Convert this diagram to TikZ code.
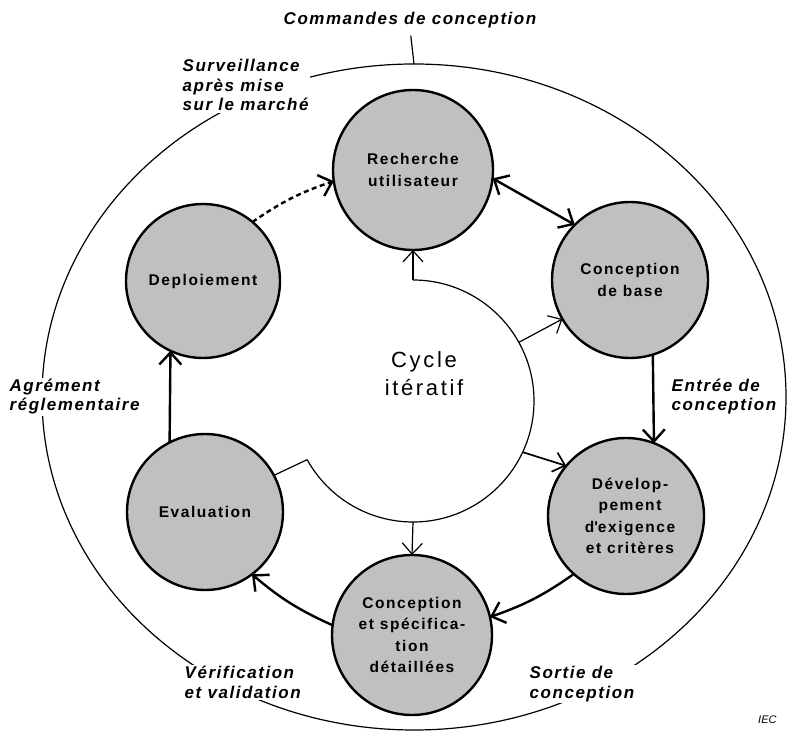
\documentclass[tikz,border=0pt]{standalone}
\usepackage{fontspec}
\setmainfont{Liberation Sans}
\newfontfamily\stagefamily[LetterSpace=10]{Liberation Sans}
\newfontfamily\labelfamily[LetterSpace=9]{Liberation Sans}
\newfontfamily\cyclefamily[LetterSpace=12]{Liberation Sans}
\usetikzlibrary{arrows.meta,shapes.geometric}
\definecolor{discgray}{RGB}{192,192,192}

\begin{document}
\begin{tikzpicture}[x=1pt,y=1pt,
  stage/.style={circle, draw, line width=2.4pt, fill=discgray, inner sep=0pt, outer sep=0pt},
  stagetext/.style={align=center, inner sep=0pt, font=\stagefamily\bfseries\fontsize{15.5}{21.5}\selectfont},
  labelfont/.style={font=\labelfamily\bfseries\itshape\fontsize{17}{19.5}\selectfont},
  outerlabel/.style={labelfont, align=left, inner sep=1.5pt, fill=white},
  thinline/.style={line width=1.2pt},
  thinarrow/.style={line width=1.2pt, -{Straight Barb[length=11pt,width=20pt]}},
  flow/.style={line width=2.4pt, {Straight Barb[length=12pt,width=22pt]}-{Straight Barb[length=12pt,width=22pt]}},
  flowto/.style={line width=2.4pt, -{Straight Barb[length=12pt,width=22pt]}}
]
\useasboundingbox (0,0) rectangle (802,731);

% surrounding design-control ellipse
\node[ellipse, draw, line width=1.2pt, minimum width=744pt, minimum height=666pt, inner sep=0pt, outer sep=0pt] (outer) at (414,334) {};

% outer labels (base anchor = baseline of the last line)
\node[labelfont, anchor=base, inner sep=0pt] (cmd) at (410,706) {Commandes de conception};
\draw[thinline, shorten >=7pt] (outer.north) -- (cmd.south);
\node[outerlabel, anchor=base west] (surv) at (181,620) {Surveillance\\après mise\\sur le marché};
\node[outerlabel, anchor=base west] (agr) at (8,320) {Agrément\\réglementaire};
\node[outerlabel, anchor=base west] (entree) at (670,320) {Entrée de\\conception};
\node[outerlabel, anchor=base west] (verif) at (183,33) {Vérification\\et validation};
\node[outerlabel, anchor=base west] (sortie) at (528,33) {Sortie de\\conception};
\node[anchor=base west, inner sep=0pt, font=\itshape\fontsize{11}{13}\selectfont] (iec) at (758,8) {IEC};

% iterative cycle (open circle)
\node[circle, minimum size=242pt, inner sep=0pt, outer sep=0pt] (cyc) at (413,330) {};
\draw[thinline] (cyc.90) arc[start angle=90, end angle=-151, radius=121pt];
\node[align=center, inner sep=0pt, font=\cyclefamily\fontsize{22}{28}\selectfont] (cyctext) at (424,357) {Cycle\\itératif};

% stages
\node[stage, minimum size=160pt] (rech) at (413,561) {};
\node[stage, minimum size=156pt] (base) at (630,451) {};
\node[stage, minimum size=156pt] (dev) at (626,215) {};
\node[stage, minimum size=160pt] (spec) at (412,96) {};
\node[stage, minimum size=156pt] (eval) at (205,219) {};
\node[stage, minimum size=154pt] (depl) at (203,450) {};

\node[stagetext] (rechT) at (rech.center) {Recherche\\utilisateur};
\node[stagetext] (baseT) at (base.center) {Conception\\de base};
\node[stagetext] (devT) at ([xshift=4pt]dev.center) {Dévelop-\\pement\\d\textquotesingle exigence\\et critères};
\node[stagetext] (specT) at (spec.center) {Conception\\et spécifica-\\tion\\détaillées};
\node[stagetext] (evalT) at (eval.center) {Evaluation};
\node[stagetext] (deplT) at (depl.center) {Deploiement};

% links from the iterative cycle
\draw[thinarrow] (cyc.90) -- (rech.-90);
\draw[thinarrow] (cyc.29) -- (base.210);
\draw[thinarrow, line width=1.7pt] (cyc.-25) -- (dev.140);
\draw[thinarrow] (cyc.-90) -- (spec.90);
\draw[thinline] (cyc.209) -- (eval.28);

% stage-to-stage flow
\draw[flow] (rech.-6) -- (base.135);
\draw[flowto] (base.-73) -- (dev.69);
\draw[flowto] (dev.-132) to[bend left=8] (spec.13);
\draw[flowto] (spec.173) to[bend left=8] (eval.-53);
\draw[flowto] (eval.117) -- (depl.-115);
\draw[flowto, dash pattern=on 5pt off 3.5pt] (depl.50) to[bend left=8] (rech.188);
\end{tikzpicture}
\end{document}
